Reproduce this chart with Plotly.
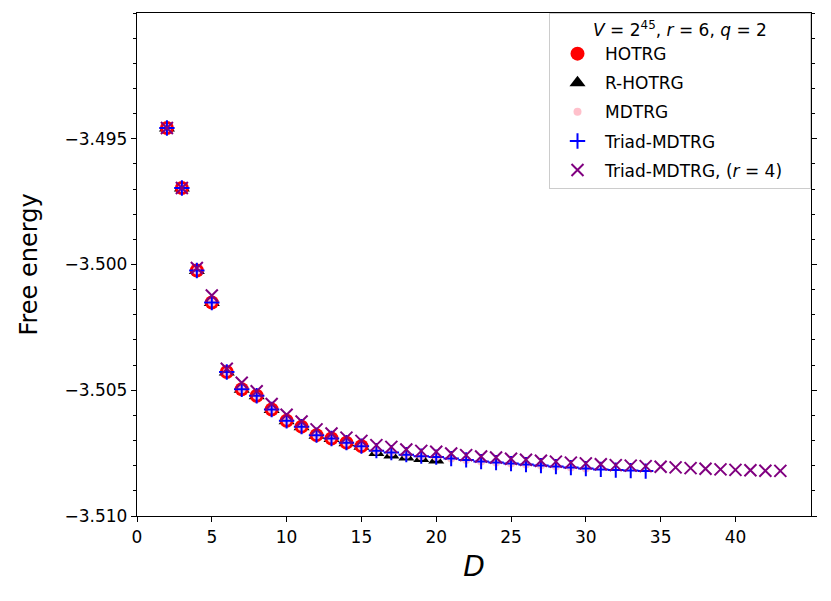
import plotly.graph_objects as go

# bond dimension D for each method
d_hotrg = list(range(2, 16))
d_rhotrg = list(range(2, 21))
d_mdtrg = list(range(2, 31))
d_triad = list(range(2, 35))
d_triad_r4 = list(range(2, 44))

# free energy values
f_hotrg = [-3.494575, -3.496956, -3.500238, -3.501508, -3.504274, -3.504960, -3.505218,
           -3.505766, -3.506210, -3.506448, -3.506786, -3.506917, -3.507083, -3.507222]
f_rhotrg = [-3.494575, -3.496956, -3.500238, -3.501508, -3.504274, -3.504960, -3.505218,
            -3.505766, -3.506210, -3.506448, -3.506786, -3.506917, -3.507083, -3.507222,
            -3.507480, -3.507579, -3.507659, -3.507718, -3.507778]
f_triad = [-3.494575, -3.496956, -3.500238, -3.501508, -3.504274, -3.504960, -3.505218,
           -3.505766, -3.506210, -3.506448, -3.506786, -3.506917, -3.507083, -3.507222,
           -3.507401, -3.507480, -3.507560, -3.507620, -3.507659, -3.507718, -3.507770,
           -3.507837, -3.507877, -3.507917, -3.507956, -3.507996, -3.508036, -3.508075,
           -3.508115, -3.508147, -3.508175, -3.508194, -3.508214]
f_mdtrg = f_triad[:len(d_mdtrg)]
f_triad_r4 = [-3.494575, -3.496956, -3.500139, -3.501230, -3.504147, -3.504702, -3.505040,
              -3.505544, -3.505972, -3.506242, -3.506556, -3.506718, -3.506885, -3.507012,
              -3.507183, -3.507250, -3.507353, -3.507409, -3.507448, -3.507512, -3.507579,
              -3.507631, -3.507671, -3.507726, -3.507766, -3.507806, -3.507837, -3.507877,
              -3.507909, -3.507944, -3.507976, -3.507996, -3.508016, -3.508044, -3.508067,
              -3.508095, -3.508123, -3.508147, -3.508167, -3.508183, -3.508198, -3.508206]

FONT = "DejaVu Sans"

fig = go.Figure()
# R-HOTRG sits underneath the red circles
fig.add_trace(go.Scatter(x=d_rhotrg, y=f_rhotrg, mode="markers", name="R-HOTRG",
                         legendrank=2, legendgroup="b",
                         marker=dict(symbol="triangle-up", size=14, color="black")))
fig.add_trace(go.Scatter(x=d_hotrg, y=f_hotrg, mode="markers", name="HOTRG",
                         legendrank=1, legendgroup="a",
                         marker=dict(symbol="circle", size=14, color="red")))
fig.add_trace(go.Scatter(x=d_mdtrg, y=f_mdtrg, mode="markers", name="MDTRG",
                         legendrank=3, legendgroup="c",
                         marker=dict(symbol="circle", size=8, color="pink")))
fig.add_trace(go.Scatter(x=d_triad, y=f_triad, mode="markers", name="Triad-MDTRG",
                         legendrank=4, legendgroup="d",
                         marker=dict(symbol="cross-thin", size=11,
                                     line=dict(color="blue", width=2))))
fig.add_trace(go.Scatter(x=d_triad_r4, y=f_triad_r4, mode="markers",
                         name="Triad-MDTRG, (<i>r</i> = 4)\u00a0\u00a0\u00a0\u00a0",
                         legendrank=5, legendgroup="e",
                         marker=dict(symbol="x-thin", size=12,
                                     line=dict(color="purple", width=2))))

# the page sits 8px in from the window corner, margins allow for that
fig.update_layout(
    width=831, height=601,
    margin=dict(l=129, r=28, t=5, b=93),
    plot_bgcolor="white", paper_bgcolor="white",
    font=dict(family=FONT, size=17, color="black"),
    showlegend=True,
    legend=dict(
        x=1, y=1, xanchor="right", yanchor="top",
        bgcolor="rgba(255,255,255,0.8)", bordercolor="#cccccc", borderwidth=1,
        font=dict(family=FONT, size=17),
        title=dict(text="<i>V</i> = 2<sup>45</sup>, <i>r</i> = 6, <i>q</i> = 2",
                   side="top center", font=dict(family=FONT, size=17)),
        tracegroupgap=4, traceorder="grouped", itemwidth=45,
    ),
)
fig.update_xaxes(
    range=[0, 45.05], tickvals=[0, 5, 10, 15, 20, 25, 30, 35, 40],
    showgrid=False, zeroline=False, automargin=False,
    showline=True, linecolor="black", linewidth=1.3, mirror=True,
    ticks="outside", ticklen=5, tickwidth=1.2, tickcolor="black",
    tickfont=dict(size=17),
    title=dict(text="<i>D</i>", font=dict(size=28), standoff=10),
)
fig.update_yaxes(
    range=[-3.510, -3.490], tickvals=[-3.510, -3.505, -3.500, -3.495], tickformat=".3f",
    showgrid=False, zeroline=False, automargin=False,
    showline=True, linecolor="black", linewidth=1.3, mirror="ticks",
    ticks="outside", ticklen=5, tickwidth=1.2, tickcolor="black",
    minor=dict(dtick=0.001, ticks="outside", ticklen=3, tickwidth=1, tickcolor="black",
               showgrid=False),
    tickfont=dict(size=17),
    title=dict(text="Free energy", font=dict(size=24), standoff=20),
)

fig.write_html("out.html")
